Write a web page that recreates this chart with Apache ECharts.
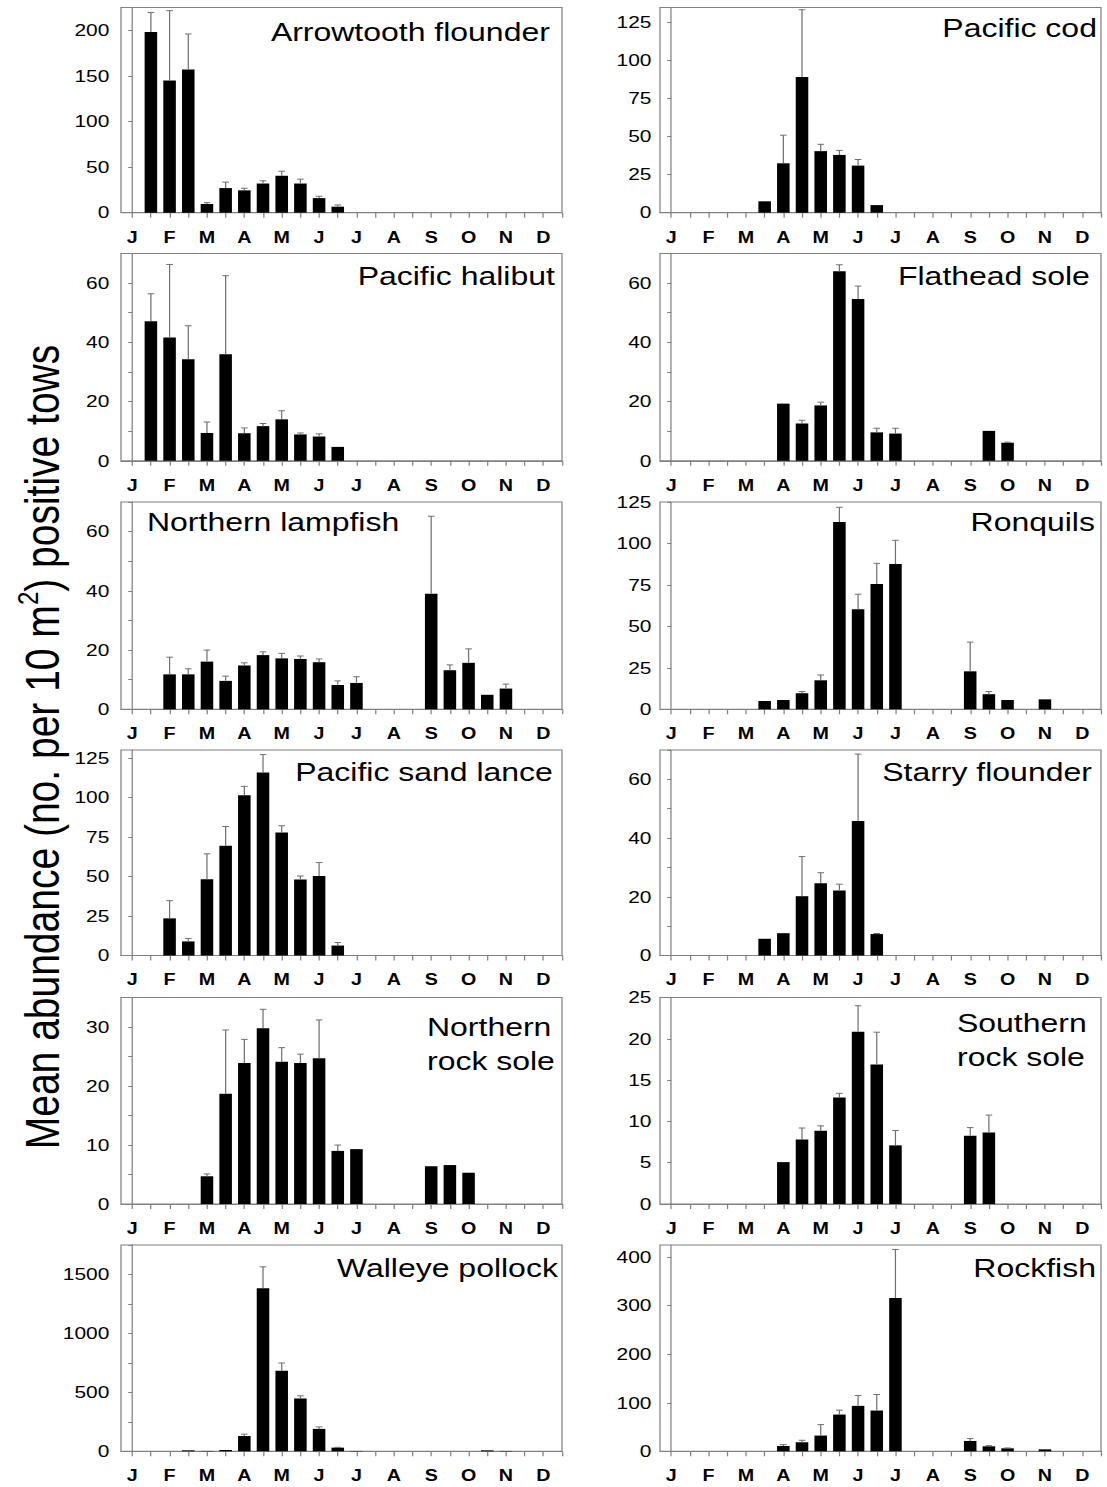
<!DOCTYPE html>
<html>
<head>
<meta charset="utf-8">
<script src="https://cdn.jsdelivr.net/npm/echarts@6/dist/echarts.min.js"></script>
<style>
  html, body { margin: 0; padding: 0; background: #fff; overflow: hidden; }
  #wrap { width: 1107px; height: 1487px; overflow: hidden; }
  /* the figure is drawn narrow and widened horizontally, like the printed panels */
  #chart { width: 900px; height: 1487px; transform: scaleX(1.23); transform-origin: 0 0; }
</style>
</head>
<body>
<div id="wrap"><div id="chart"></div></div>
<script>
// Half-month bins: index 0 = early Jan, 1 = late Jan, ... 23 = late Dec
const monthLabels = ['J', 'F', 'M', 'A', 'M', 'J', 'J', 'A', 'S', 'O', 'N', 'D'];

const arrowtoothMean = [null, 198, 145, 157, 9.5, 27, 24.5, 32, 40.5, 32, 16, 6.6, null, null, null, null, null, null, null, null, null, null, null, null];
const arrowtoothSE   = [null, 21.5, 76.5, 39, 1.5, 6.5, 2.3, 3, 5, 4.8, 2, 1.9, null, null, null, null, null, null, null, null, null, null, null, null];

const codMean = [null, null, null, null, null, 7.5, 32.5, 89.3, 40.5, 38, 31, 5, null, null, null, null, null, null, null, null, null, null, null, null];
const codSE   = [null, null, null, null, null, 0, 18.5, 44.2, 4.5, 3, 4, 0, null, null, null, null, null, null, null, null, null, null, null, null];

const halibutMean = [null, 47.1, 41.6, 34.3, 9.4, 36, 9.3, 11.7, 14, 8.9, 8.2, 4.7, null, null, null, null, null, null, null, null, null, null, null, null];
const halibutSE   = [null, 9.3, 24.7, 11.3, 3.7, 26.5, 1.8, 0.9, 2.9, 0.5, 0.9, 0, null, null, null, null, null, null, null, null, null, null, null, null];

const flatheadMean = [null, null, null, null, null, null, 19.3, 12.6, 18.7, 64, 54.6, 9.6, 9.2, null, null, null, null, 10.1, 6.1, null, null, null, null, null];
const flatheadSE   = [null, null, null, null, null, null, 0, 1.1, 1.1, 2.2, 4.4, 1.4, 1.8, null, null, null, null, 0, 0.2, null, null, null, null, null];

const lampfishMean = [null, null, 11.8, 11.8, 16.1, 9.6, 14.8, 18.3, 17.2, 17.0, 15.9, 8.2, 8.9, null, null, null, 39, 13.2, 15.7, 4.9, 7, null, null, null];
const lampfishSE   = [null, null, 5.8, 1.9, 3.9, 1.6, 0.9, 1.1, 1.7, 1, 1.1, 1.4, 2.1, null, null, null, 26.2, 1.8, 4.7, 0, 1.5, null, null, null];

const ronquilsMean = [null, null, null, null, null, 5.0, 5.6, 9.7, 17.5, 112.9, 60.4, 75.5, 87.6, null, null, null, 22.9, 9.1, 5.6, null, 6.0, null, null, null];
const ronquilsSE   = [null, null, null, null, null, 0, 0, 1, 3.2, 8.9, 9, 12.5, 14.3, null, null, null, 17.6, 1.6, 0, null, 0, null, null, null];

const sandLanceMean = [null, null, 23.5, 8.9, 48.2, 69.4, 101.3, 115.7, 77.8, 48, 50.3, 6.3, null, null, null, null, null, null, null, null, null, null, null, null];
const sandLanceSE   = [null, null, 11.2, 1.9, 16.1, 12.2, 5.7, 11.4, 4.3, 2.3, 8.5, 1.9, null, null, null, null, null, null, null, null, null, null, null, null];

const starryMean = [null, null, null, null, null, 5.7, 7.6, 20.2, 24.6, 22.1, 45.8, 7.3, null, null, null, null, null, null, null, null, null, null, null, null];
const starrySE   = [null, null, null, null, null, 0, 0, 13.5, 3.6, 2.2, 22.8, 0.2, null, null, null, null, null, null, null, null, null, null, null, null];

const northernRockSoleMean = [null, null, null, null, 4.7, 18.7, 23.9, 29.8, 24.1, 23.9, 24.7, 9.0, 9.3, null, null, null, 6.4, 6.6, 5.3, null, null, null, null, null];
const northernRockSoleSE   = [null, null, null, null, 0.4, 10.8, 4, 3.2, 2.4, 1.5, 6.5, 1, 0, null, null, null, 0, 0, 0, null, null, null, null, null];

const southernRockSoleMean = [null, null, null, null, null, null, 5.07, 7.8, 8.86, 12.9, 20.85, 16.9, 7.1, null, null, null, 8.25, 8.66, null, null, null, null, null, null];
const southernRockSoleSE   = [null, null, null, null, null, null, 0, 1.4, 0.6, 0.5, 3.15, 3.9, 1.8, null, null, null, 1.0, 2.1, null, null, null, null, null, null];

const pollockMean = [null, null, null, 8, 3, 11, 130, 1384, 683, 448, 190, 31, 3, null, null, null, null, null, null, 8, 3, null, null, null];
const pollockSE   = [null, null, null, 0, 0, 0, 15, 181, 66, 23, 17, 3, 0, null, null, null, null, null, null, 0, 0, null, null, null];

const rockfishMean = [null, null, null, null, null, null, 11, 18.6, 32.4, 75.7, 93.6, 84, 316, null, null, null, 21.3, 10.3, 6.2, null, 4.1, null, null, null];
const rockfishSE   = [null, null, null, null, null, null, 2.8, 4.1, 22.6, 9, 21.4, 33, 99.8, null, null, null, 4.9, 1.4, 0.7, null, 0, null, null, null];

// ---- layout (real page pixels; converted to the narrow drawing space below) ----
const SX = 1.23;
const PAGE_W = 1107;
const px = v => v / SX;

const colLeft  = [121, 660];
const colRight = [562, 1101];
const rowTop    = [7.5, 253.5, 502, 750, 997.5, 1245];
const rowBottom = [212.7, 460.8, 709.3, 955.5, 1204, 1451.3];

const FONT = '"Liberation Sans", Arial, Helvetica, sans-serif';
const AXIS = '#808080';
const ERR = '#707070';

const panels = [
  { title: 'Arrowtooth flounder', mean: arrowtoothMean, se: arrowtoothSE, max: 225, tick: 50, label: 50, col: 0, row: 0, tx: 550, anchor: 'right', cy: 32 },
  { title: 'Pacific cod', mean: codMean, se: codSE, max: 135, tick: 25, label: 25, col: 1, row: 0, tx: 1097, anchor: 'right', cy: 28 },
  { title: 'Pacific halibut', mean: halibutMean, se: halibutSE, max: 70, tick: 10, label: 20, col: 0, row: 1, tx: 555, anchor: 'right', cy: 276 },
  { title: 'Flathead sole', mean: flatheadMean, se: flatheadSE, max: 70, tick: 10, label: 20, col: 1, row: 1, tx: 1090, anchor: 'right', cy: 276 },
  { title: 'Northern lampfish', mean: lampfishMean, se: lampfishSE, max: 70, tick: 10, label: 20, col: 0, row: 2, tx: 147, anchor: 'left', cy: 522 },
  { title: 'Ronquils', mean: ronquilsMean, se: ronquilsSE, max: 125, tick: 25, label: 25, col: 1, row: 2, tx: 1095, anchor: 'right', cy: 522 },
  { title: 'Pacific sand lance', mean: sandLanceMean, se: sandLanceSE, max: 130, tick: 25, label: 25, col: 0, row: 3, tx: 553, anchor: 'right', cy: 772 },
  { title: 'Starry flounder', mean: starryMean, se: starrySE, max: 70, tick: 10, label: 20, col: 1, row: 3, tx: 1092, anchor: 'right', cy: 772 },
  { title: 'Northern\nrock sole', mean: northernRockSoleMean, se: northernRockSoleSE, max: 35, tick: 5, label: 10, col: 0, row: 4, tx: 427, anchor: 'left', cy: 1027.5 },
  { title: 'Southern\nrock sole', mean: southernRockSoleMean, se: southernRockSoleSE, max: 25, tick: 5, label: 5, col: 1, row: 4, tx: 957, anchor: 'left', cy: 1023 },
  { title: 'Walleye pollock', mean: pollockMean, se: pollockSE, max: 1750, tick: 250, label: 500, col: 0, row: 5, tx: 558, anchor: 'right', cy: 1268 },
  { title: 'Rockfish', mean: rockfishMean, se: rockfishSE, max: 425, tick: 100, label: 100, col: 1, row: 5, tx: 1096, anchor: 'right', cy: 1268 }
];

const binTicks = Array.from({ length: 24 }, (_, i) => i);
const monthTicks = monthLabels.map((_, m) => m * 2);

function steps(max, step) {
  const out = [];
  for (let v = 0; v <= max + 1e-9; v += step) out.push(v);
  return out;
}

const grid = [], xAxis = [], yAxis = [], series = [], title = [];
const TITLE_LH = 34;

panels.forEach((p, k) => {
  grid.push({
    left: px(colLeft[p.col]),
    width: px(colRight[p.col] - colLeft[p.col]),
    top: rowTop[p.row],
    height: rowBottom[p.row] - rowTop[p.row],
    show: true,
    borderColor: AXIS,
    borderWidth: 1,
    backgroundColor: 'transparent',
    containLabel: false
  });

  xAxis.push({
    gridIndex: k,
    type: 'value',
    min: -0.6,
    max: 23,
    axisLine: { show: true, onZero: false, lineStyle: { color: AXIS, width: 1 } },
    axisTick: { show: true, customValues: binTicks, length: 5, inside: false, lineStyle: { color: AXIS, width: 1 } },
    axisLabel: {
      customValues: monthTicks,
      formatter: v => monthLabels[Math.round(v / 2)],
      margin: 16.5,
      fontFamily: FONT,
      fontWeight: 'bold',
      fontSize: 16,
      color: '#000'
    },
    splitLine: { show: false }
  });

  yAxis.push({
    gridIndex: k,
    type: 'value',
    min: 0,
    max: p.max,
    axisLine: { show: true, lineStyle: { color: AXIS, width: 1 } },
    axisTick: { show: true, customValues: steps(p.max, p.tick), length: 3.3, lineStyle: { color: AXIS, width: 1 } },
    axisLabel: {
      customValues: steps(p.max, p.label),
      formatter: v => String(v),
      margin: p.col === 0 ? 9.5 : 7,
      fontFamily: FONT,
      fontSize: 17,
      color: '#000'
    },
    splitLine: { show: false }
  });

  const barData = [];
  const errData = [];
  p.mean.forEach((v, i) => {
    if (v == null) return;
    barData.push([i, v]);
    const e = p.se[i];
    if (e != null && e > 0) errData.push([i, v, v + e]);
  });

  series.push({
    type: 'bar',
    name: p.title,
    xAxisIndex: k,
    yAxisIndex: k,
    barWidth: 10.2,
    itemStyle: { color: '#000' },
    data: barData,
    z: 2
  });

  series.push({
    type: 'custom',
    name: p.title + ' SE',
    xAxisIndex: k,
    yAxisIndex: k,
    data: errData,
    z: 3,
    renderItem: (params, api) => {
      const x = api.value(0);
      const lo = api.coord([x, api.value(1)]);
      const hi = api.coord([x, api.value(2)]);
      const half = 2.7;
      return {
        type: 'group',
        children: [
          { type: 'line', shape: { x1: lo[0], y1: lo[1], x2: hi[0], y2: hi[1] }, style: { stroke: ERR, lineWidth: 1 } },
          { type: 'line', shape: { x1: hi[0] - half, y1: hi[1], x2: hi[0] + half, y2: hi[1] }, style: { stroke: ERR, lineWidth: 1 } }
        ]
      };
    }
  });

  const t = {
    text: p.title,
    top: p.cy - TITLE_LH / 2,
    padding: 0,
    textAlign: 'left',
    textStyle: { fontFamily: FONT, fontSize: 26, fontWeight: 'normal', color: '#000', lineHeight: TITLE_LH }
  };
  if (p.anchor === 'right') t.right = px(PAGE_W - p.tx);
  else t.left = px(p.tx);
  title.push(t);
});

const chart = echarts.init(document.getElementById('chart'), null, { renderer: 'svg' });
chart.setOption({
  animation: false,
  backgroundColor: '#fff',
  title,
  grid,
  xAxis,
  yAxis,
  series,
  graphic: [{
    type: 'text',
    x: px(42),
    y: 747,
    rotation: Math.PI / 2,
    style: {
      text: 'Mean abundance (no. per 10 m{sup|2}) positive tows',
      fontFamily: FONT,
      fontSize: 39,
      fill: '#000',
      align: 'center',
      verticalAlign: 'middle',
      lineHeight: 46,
      rich: {
        sup: { fontFamily: FONT, fontSize: 24, lineHeight: 24, verticalAlign: 'top', fill: '#000' }
      }
    }
  }]
});
</script>
</body>
</html>
